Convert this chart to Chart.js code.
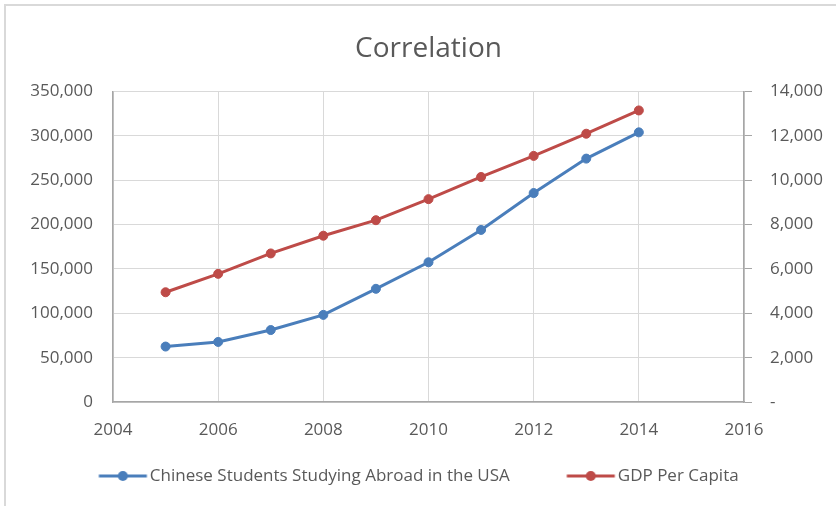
<!DOCTYPE html>
<html>
<head>
<meta charset="utf-8">
<script src="https://cdn.jsdelivr.net/npm/chart.js@4.4.1/dist/chart.umd.min.js"></script>
<style>
  html, body { margin: 0; padding: 0; background: #fff; }
  #wrap { position: relative; width: 836px; height: 506px; }
  #chart { position: absolute; left: 0; top: 0; }
  #frame { position: absolute; left: 4px; top: 4px; right: 0; bottom: 0;
           border-left: 2px solid #d9d9d9; border-top: 2px solid #d9d9d9; pointer-events: none; }
</style>
</head>
<body>
<div id="wrap">
  <canvas id="chart" width="836" height="506"></canvas>
  <div id="frame"></div>
</div>
<script>
// values
const years = [2005, 2006, 2007, 2008, 2009, 2010, 2011, 2012, 2013, 2014];
const students = [62523, 67723, 81127, 98235, 127628, 157558, 194029, 235597, 274439, 304040];
const gdpPerCapita = [4950, 5780, 6700, 7500, 8200, 9150, 10150, 11100, 12100, 13150];

const seriesNames = ['Chinese Students Studying Abroad in the USA', 'GDP Per Capita'];
const titleText = 'Correlation';

const BLUE = '#4a7ebb';
const RED = '#be4b48';
const TEXT = '#595959';
const GRID = '#d9d9d9';
const AXIS = '#a6a6a6';
const FONT = "'Open Sans', sans-serif";

// legend marker: a short line with a dot in the middle, like Excel.
// drawn off-centre in a wide canvas so the gap before the next item is wider
function legendMarker(color) {
  const c = document.createElement('canvas');
  c.width = 100; c.height = 12;
  const g = c.getContext('2d');
  g.strokeStyle = color; g.lineWidth = 3;
  g.beginPath(); g.moveTo(45.5, 6); g.lineTo(93.5, 6); g.stroke();
  g.fillStyle = color;
  g.beginPath(); g.arc(69.5, 6, 5, 0, Math.PI * 2); g.fill();
  return c;
}
const markers = [legendMarker(BLUE), legendMarker(RED)];

const pts = (ys) => years.map((x, i) => ({ x: x, y: ys[i] }));
const fmt = (v) => v.toLocaleString('en-US');

const chart = new Chart(document.getElementById('chart').getContext('2d'), {
  type: 'line',
  data: {
    datasets: [
      { label: seriesNames[0], data: pts(students), yAxisID: 'y',
        borderColor: BLUE, backgroundColor: BLUE, borderWidth: 3,
        pointRadius: 4.5, pointBorderWidth: 1, pointBackgroundColor: BLUE, tension: 0 },
      { label: seriesNames[1], data: pts(gdpPerCapita), yAxisID: 'y2',
        borderColor: RED, backgroundColor: RED, borderWidth: 3,
        pointRadius: 4.5, pointBorderWidth: 1, pointBackgroundColor: RED, tension: 0 }
    ]
  },
  options: {
    responsive: false,
    animation: false,
    // negative left padding nudges the centred legend left; the left axis width makes up for it
    layout: { padding: { left: -32, right: 0, top: 0, bottom: 11.5 } },
    plugins: {
      tooltip: { enabled: false },
      title: {
        display: true, text: titleText, color: TEXT, fullSize: false,
        font: { family: FONT, size: 28, weight: 'normal' },
        padding: { top: 32, bottom: 26 }
      },
      legend: {
        position: 'bottom',
        labels: {
          color: TEXT,
          font: { family: FONT, size: 17 },
          usePointStyle: true,
          pointStyleWidth: 76,
          padding: 23.5,
          generateLabels: (c) => Chart.defaults.plugins.legend.labels.generateLabels(c)
            .map((it, i) => Object.assign(it, { pointStyle: markers[i] }))
        }
      }
    },
    scales: {
      x: {
        type: 'linear', min: 2004, max: 2016,
        border: { color: AXIS, width: 1.5 },
        grid: { color: GRID, drawTicks: false },
        ticks: { stepSize: 2, color: TEXT, padding: 18, font: { family: FONT, size: 17 },
                 callback: (v) => String(v) },
        afterFit: (s) => { s.height = 42; }
      },
      y: {
        position: 'left', min: 0, max: 350000,
        border: { color: AXIS, width: 1.5 },
        grid: { color: GRID, drawTicks: false },
        ticks: { stepSize: 50000, color: TEXT, padding: 20, font: { family: FONT, size: 17 },
                 callback: (v) => fmt(v) },
        afterFit: (s) => { s.width = 145; }
      },
      y2: {
        position: 'right', min: 0, max: 14000,
        border: { color: AXIS, width: 1.5 },
        grid: { drawOnChartArea: false, color: AXIS, tickLength: 8 },
        ticks: { stepSize: 2000, color: TEXT, padding: 18, font: { family: FONT, size: 17 },
                 callback: (v) => v === 0 ? '-' : fmt(v) },
        afterFit: (s) => { s.width = 92; }
      }
    }
  }
});
</script>
</body>
</html>
